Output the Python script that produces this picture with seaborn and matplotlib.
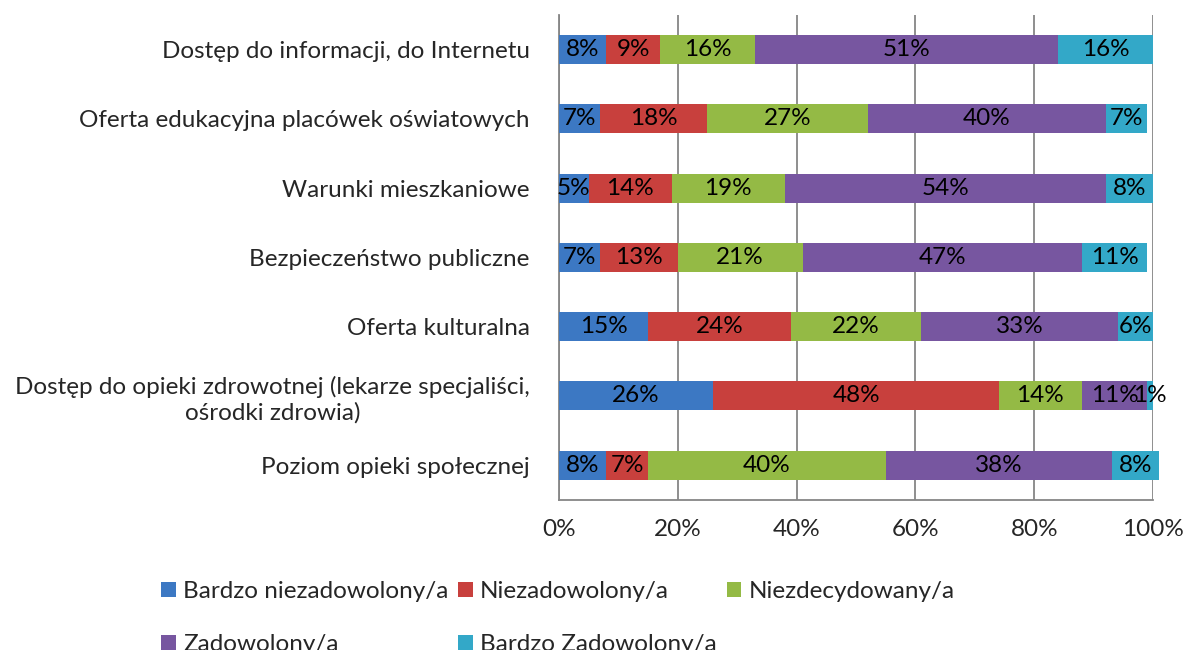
import numpy as np
import pandas as pd
import matplotlib.pyplot as plt
import seaborn as sns
from matplotlib.patches import Patch

# ------------------------------------------------------------
# DATA
# ------------------------------------------------------------
categories = [
    "Dostęp do informacji, do Internetu",
    "Oferta edukacyjna placówek oświatowych",
    "Warunki mieszkaniowe",
    "Bezpieczeństwo publiczne",
    "Oferta kulturalna",
    "Dostęp do opieki zdrowotnej (lekarze specjaliści,\nośrodki zdrowia)",
    "Poziom opieki społecznej",
]
series_names = [
    "Bardzo niezadowolony/a",
    "Niezadowolony/a",
    "Niezdecydowany/a",
    "Zadowolony/a",
    "Bardzo Zadowolony/a",
]
bardzo_niezadowolony = [8, 7, 5, 7, 15, 26, 8]
niezadowolony = [9, 18, 14, 13, 24, 48, 7]
niezdecydowany = [16, 27, 19, 21, 22, 14, 40]
zadowolony = [51, 40, 54, 47, 33, 11, 38]
bardzo_zadowolony = [16, 7, 8, 11, 6, 1, 8]
x_ticks = [0, 20, 40, 60, 80, 100]

colors = ["#3C78C3", "#C8403D", "#94BA45", "#7756A0", "#33A8C8"]

df = pd.DataFrame(
    np.array([bardzo_niezadowolony, niezadowolony, niezdecydowany,
              zadowolony, bardzo_zadowolony]).T / 100.0,
    columns=series_names,
)
df["Kategoria"] = categories
cum = df[series_names].cumsum(axis=1)

# ------------------------------------------------------------
# PLOT
# ------------------------------------------------------------
sns.set_style("white")
plt.rcParams["font.family"] = ["Lato", "DejaVu Sans"]
fs = 17.5

fig = plt.figure(figsize=(11.84, 6.5), dpi=100)
ax = fig.add_axes([0.472, 0.231, 0.502, 0.746])

# stacked bars: draw cumulative totals from the last series back to the first
for name, color in reversed(list(zip(series_names, colors))):
    sns.barplot(x=cum[name], y=df["Kategoria"], order=categories, orient="h",
                color=color, width=0.42, saturation=1, linewidth=0,
                ax=ax, zorder=3)

for p in ax.patches:
    p.set_clip_on(False)
    p.set_linewidth(0)

# value labels in the middle of each segment
for i, cat in enumerate(categories):
    for name in series_names:
        val = df.loc[i, name]
        mid = cum.loc[i, name] - val / 2
        ax.text(mid, i, f"{val * 100:.0f}%", ha="center", va="center",
                fontsize=fs, color="black", zorder=4)

ax.set_xlim(0, 1)
ax.set_ylim(len(categories) - 0.5, -0.5)
ax.set_xticks([t / 100 for t in x_ticks])
ax.set_xticklabels([f"{t}%" for t in x_ticks], fontsize=fs)
ax.set_xlabel("")
ax.set_ylabel("")

ax.set_yticks(range(len(categories)))
ax.set_yticklabels(categories, fontsize=fs)
for lbl in ax.get_yticklabels():
    lbl.set_multialignment("center")
ax.set_yticks(np.arange(-0.5, len(categories), 1.0), minor=True)
ax.tick_params(axis="y", which="major", length=0, pad=21)
ax.tick_params(axis="y", which="minor", length=6, width=1.3, color="#868686")
ax.tick_params(axis="x", which="major", length=6, width=1.3, color="#868686",
               pad=8, direction="out")

ax.grid(axis="x", color="#868686", linewidth=1.3, zorder=0)
ax.set_axisbelow(True)
for side in ["top", "right"]:
    ax.spines[side].set_visible(False)
for side in ["left", "bottom"]:
    ax.spines[side].set_color("#868686")
    ax.spines[side].set_linewidth(1.3)

# legend: matplotlib fills columns first, so reorder to get Excel rows
handles = [Patch(facecolor=c, edgecolor="none") for c in colors]
order = [0, 3, 1, 4, 2]
fig.legend([handles[i] for i in order], [series_names[i] for i in order],
           loc="upper left", bbox_to_anchor=(0.128, 0.121), ncol=3,
           frameon=False, fontsize=fs, handlelength=0.6, handleheight=0.6,
           handletextpad=0.3, columnspacing=0.4, labelspacing=1.32,
           borderaxespad=0)

fig.savefig("out.png", dpi=100)
